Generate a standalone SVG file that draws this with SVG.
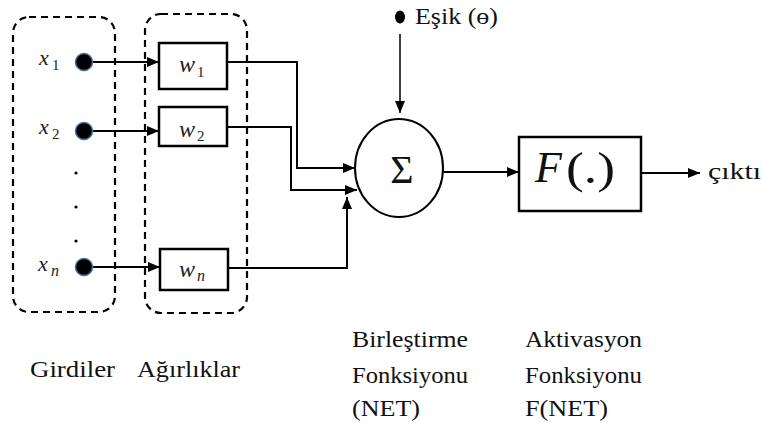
<svg xmlns="http://www.w3.org/2000/svg" width="763" height="423" viewBox="0 0 763 423">
<defs>
<marker id="ah" viewBox="0 0 12 10" refX="12" refY="5" markerWidth="12" markerHeight="10" markerUnits="userSpaceOnUse" orient="auto">
<path d="M0,0 L12,5 L0,10 z" fill="#000"/>
</marker>
<style>
.dash{fill:none;stroke:#000;stroke-width:2.2;stroke-dasharray:7,5}
.box{fill:#fff;stroke:#000;stroke-width:2.5}
.wire{fill:none;stroke:#000;stroke-width:2;marker-end:url(#ah)}
.thin{fill:none;stroke:#000;stroke-width:1.5;marker-end:url(#ah)}
.dot{fill:#000;stroke:#41719c;stroke-width:1.5}
text{font-family:'Liberation Serif','Times New Roman',Tinos,'DejaVu Serif',serif}
</style>
</defs>
<rect width="763" height="423" fill="#fff"/>

<g id="inputs-group">
<rect class="dash" x="13" y="17" width="102" height="295" rx="16"/>
</g>
<g id="weights-group">
<rect class="dash" x="145" y="14" width="102" height="299" rx="16"/>
</g>

<g id="connectors">
<line class="wire" x1="92" y1="62" x2="159" y2="62"/>
<line class="wire" x1="92" y1="131" x2="159" y2="131"/>
<line class="wire" x1="92" y1="267" x2="160" y2="267"/>
<polyline class="wire" points="227,62 297,62 297,168 355,168"/>
<polyline class="wire" points="227,127 291,127 291,190 357,190"/>
<polyline class="wire" points="228,268 347,268 347,197"/>
<line class="thin" x1="400" y1="34" x2="400" y2="113"/>
<line class="wire" x1="443" y1="172" x2="519" y2="172"/>
<line class="wire" x1="641" y1="173" x2="700" y2="173"/>
</g>

<g id="x1" fill="#222">
<circle class="dot" cx="84" cy="62" r="8.5"/>
<text x="39" y="65" font-size="22" font-style="italic">x</text>
<text x="52" y="70" font-size="15">1</text>
</g>
<g id="x2" fill="#222">
<circle class="dot" cx="84" cy="131" r="8.5"/>
<text x="39" y="134" font-size="22" font-style="italic">x</text>
<text x="52" y="139" font-size="15">2</text>
</g>
<g id="ellipsis">
<circle cx="76" cy="173" r="1.6" fill="#000"/>
<circle cx="76" cy="207" r="1.6" fill="#000"/>
<circle cx="76" cy="241" r="1.6" fill="#000"/>
</g>
<g id="xn" fill="#222">
<circle class="dot" cx="84" cy="267" r="8.5"/>
<text x="38" y="271" font-size="22" font-style="italic">x</text>
<text x="51" y="276" font-size="16" font-style="italic">n</text>
</g>

<g id="w1" fill="#222">
<rect class="box" x="159" y="43" width="68" height="46"/>
<text x="179" y="72" font-size="24" font-style="italic">w</text>
<text x="197" y="77" font-size="15">1</text>
</g>
<g id="w2" fill="#222">
<rect class="box" x="159" y="107" width="68" height="39"/>
<text x="179" y="137" font-size="24" font-style="italic">w</text>
<text x="197" y="141" font-size="15">2</text>
</g>
<g id="wn" fill="#222">
<rect class="box" x="160" y="249" width="68" height="41"/>
<text x="179" y="277" font-size="24" font-style="italic">w</text>
<text x="197" y="281" font-size="16" font-style="italic">n</text>
</g>

<g id="threshold" fill="#111">
<ellipse cx="400" cy="17" rx="5" ry="6.5" fill="#000"/>
<text x="415" y="24" font-size="24" textLength="83" lengthAdjust="spacingAndGlyphs">Eşik (ɵ)</text>
</g>

<g id="sum">
<ellipse cx="399" cy="168" rx="44" ry="49" fill="#fff" stroke="#000" stroke-width="2"/>
<text x="402" y="183" text-anchor="middle" font-size="40" fill="#111">Σ</text>
</g>

<g id="activation">
<rect class="box" x="519" y="137" width="122" height="74"/>
<text x="535" y="182" font-size="44" font-style="italic" fill="#111">F</text>
<text x="566" y="183" font-size="44" fill="#111" textLength="49" lengthAdjust="spacingAndGlyphs">(.)</text>
</g>

<g id="output" fill="#111">
<text x="708" y="179" font-size="24" textLength="53" lengthAdjust="spacingAndGlyphs">çıktı</text>
</g>

<g id="labels" fill="#111">
<text x="30" y="377" font-size="24" textLength="85" lengthAdjust="spacingAndGlyphs">Girdiler</text>
<text x="137" y="377" font-size="24" textLength="103" lengthAdjust="spacingAndGlyphs">Ağırlıklar</text>
<text x="352" y="347" font-size="24" textLength="116" lengthAdjust="spacingAndGlyphs">Birleştirme</text>
<text x="352" y="383" font-size="24" textLength="116" lengthAdjust="spacingAndGlyphs">Fonksiyonu</text>
<text x="352" y="416" font-size="24" textLength="68" lengthAdjust="spacingAndGlyphs">(NET)</text>
<text x="525" y="347" font-size="24" textLength="117" lengthAdjust="spacingAndGlyphs">Aktivasyon</text>
<text x="525" y="383" font-size="24" textLength="117" lengthAdjust="spacingAndGlyphs">Fonksiyonu</text>
<text x="525" y="416" font-size="24" textLength="83" lengthAdjust="spacingAndGlyphs">F(NET)</text>
</g>
</svg>
